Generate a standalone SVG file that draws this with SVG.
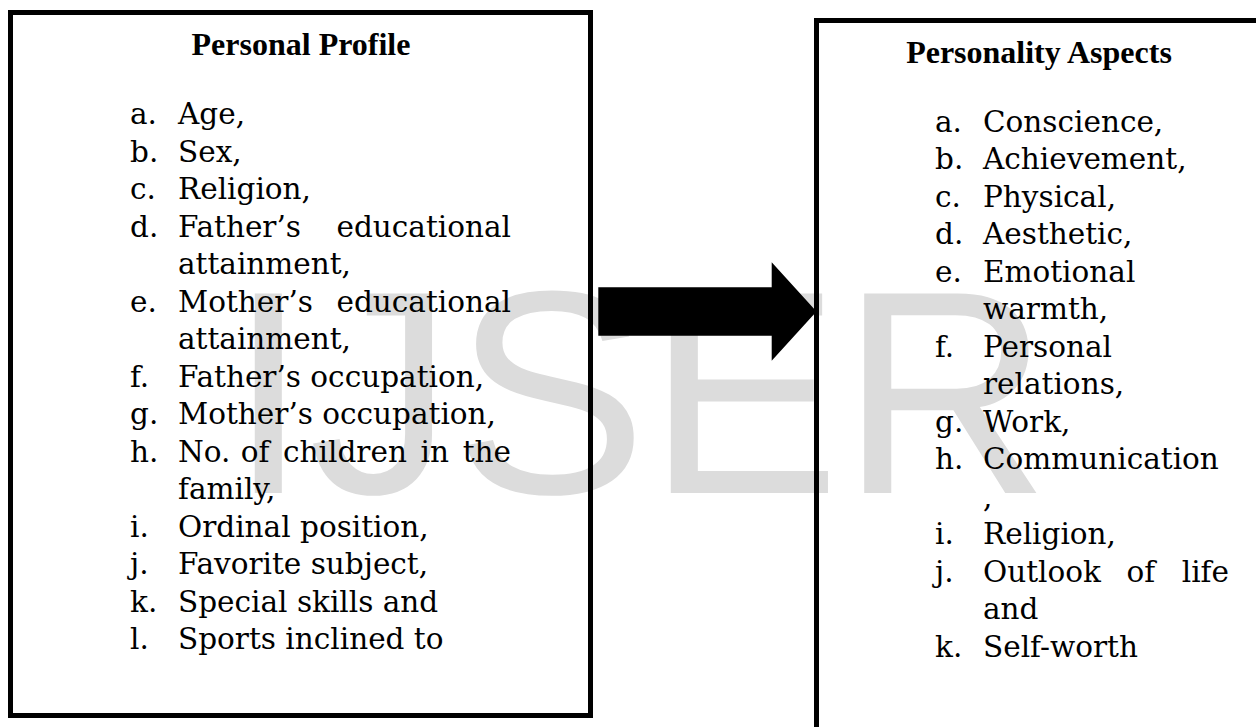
<svg xmlns="http://www.w3.org/2000/svg" width="1256" height="727" viewBox="0 0 1256 727">
<style>
.box{fill:none;stroke:#000;stroke-width:5}
.title{font-family:"Liberation Serif","Times New Roman",serif;font-weight:bold;font-size:32px;fill:#000}
.item{font-family:"DejaVu Serif","Bookman Old Style",serif;font-size:29.5px;fill:#000}
.wm{font-family:"Liberation Sans",Arial,sans-serif;font-size:290px;fill:#dcdcdc}
.arrow{fill:#000}
</style>
<rect x="0" y="0" width="1256" height="727" fill="#fff"/>
<text class="wm" x="228" y="493">IJSER</text>
<g id="node-personal-profile">
<rect class="box" x="10.5" y="12.5" width="580" height="703"/>
<text class="title" x="301" y="55" text-anchor="middle">Personal Profile</text>
<g class="item">
<text x="130" y="124">a.</text><text x="178" y="124">Age,</text>
<text x="130" y="161.5">b.</text><text x="178" y="161.5">Sex,</text>
<text x="130" y="199">c.</text><text x="178" y="199">Religion,</text>
<text x="130" y="236.5">d.</text><text x="178" y="236.5">Father’s</text><text x="511" y="236.5" text-anchor="end">educational</text>
<text x="178" y="274">attainment,</text>
<text x="130" y="311.5">e.</text><text x="178" y="311.5">Mother’s</text><text x="511" y="311.5" text-anchor="end">educational</text>
<text x="178" y="349">attainment,</text>
<text x="130" y="386.5">f.</text><text x="178" y="386.5">Father’s occupation,</text>
<text x="130" y="424">g.</text><text x="178" y="424">Mother’s occupation,</text>
<text x="130" y="461.5">h.</text><text x="178" y="461.5">No.</text><text x="240.8" y="461.5">of</text><text x="283.1" y="461.5">children</text><text x="420.5" y="461.5">in</text><text x="511" y="461.5" text-anchor="end">the</text>
<text x="178" y="499">family,</text>
<text x="130" y="536.5">i.</text><text x="178" y="536.5">Ordinal position,</text>
<text x="130" y="574">j.</text><text x="178" y="574">Favorite subject,</text>
<text x="130" y="611.5">k.</text><text x="178" y="611.5">Special skills and</text>
<text x="130" y="649">l.</text><text x="178" y="649">Sports inclined to</text>
</g>
</g>
<g id="node-personality-aspects">
<rect class="box" x="816.5" y="20.5" width="700" height="800"/>
<text class="title" x="1039" y="63" text-anchor="middle">Personality Aspects</text>
<g class="item">
<text x="935" y="131.5">a.</text><text x="983" y="131.5">Conscience,</text>
<text x="935" y="169">b.</text><text x="983" y="169">Achievement,</text>
<text x="935" y="206.5">c.</text><text x="983" y="206.5">Physical,</text>
<text x="935" y="244">d.</text><text x="983" y="244">Aesthetic,</text>
<text x="935" y="281.5">e.</text><text x="983" y="281.5">Emotional</text>
<text x="983" y="319">warmth,</text>
<text x="935" y="356.5">f.</text><text x="983" y="356.5">Personal</text>
<text x="983" y="394">relations,</text>
<text x="935" y="431.5">g.</text><text x="983" y="431.5">Work,</text>
<text x="935" y="469">h.</text><text x="983" y="469">Communication</text>
<text x="983" y="506.5">,</text>
<text x="935" y="544">i.</text><text x="983" y="544">Religion,</text>
<text x="935" y="581.5">j.</text><text x="983" y="581.5">Outlook</text><text x="1126.4" y="581.5">of</text><text x="1229" y="581.5" text-anchor="end">life</text>
<text x="983" y="619">and</text>
<text x="935" y="656.5">k.</text><text x="983" y="656.5">Self-worth</text>
</g>
</g>
<g id="connectors">
<polygon class="arrow" points="598.3,287.3 771.7,287.3 771.7,262.3 816.5,311.5 771.7,360.7 771.7,335.7 598.3,335.7"/>
</g>
</svg>
